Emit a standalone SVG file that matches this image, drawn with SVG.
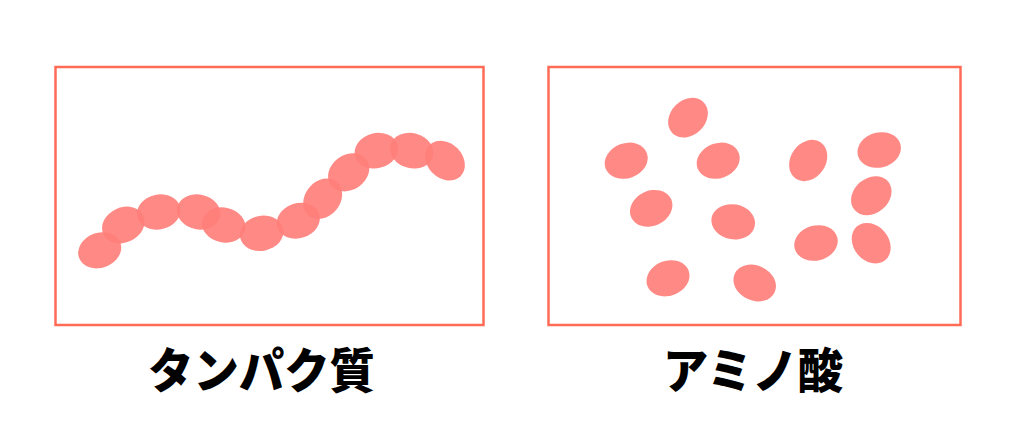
<svg xmlns="http://www.w3.org/2000/svg" width="1024" height="438" viewBox="0 0 1024 438">
<style>
.box{fill:none;stroke:#ff6b57;stroke-width:2.5}
.m{fill:#ff7f7b;opacity:0.92}
.lbl{font-family:"Noto Sans CJK JP","Noto Sans",sans-serif;font-weight:900;font-size:48px;fill:#000}
</style>
<rect width="1024" height="438" fill="#fff"/>
<g id="protein">
<rect class="box" x="55.5" y="67" width="428" height="258"/>
<ellipse class="m" cx="0" cy="0" rx="22" ry="17.5" transform="translate(99.7 250.3) rotate(-20)"/>
<ellipse class="m" cx="0" cy="0" rx="22" ry="17.5" transform="translate(123.3 225) rotate(-25)"/>
<ellipse class="m" cx="0" cy="0" rx="22" ry="17.5" transform="translate(158.7 212) rotate(-12)"/>
<ellipse class="m" cx="0" cy="0" rx="22" ry="17.5" transform="translate(198.7 212) rotate(12)"/>
<ellipse class="m" cx="0" cy="0" rx="22" ry="17.5" transform="translate(223.7 225) rotate(12)"/>
<ellipse class="m" cx="0" cy="0" rx="22" ry="17.5" transform="translate(261.7 233.3) rotate(-12)"/>
<ellipse class="m" cx="0" cy="0" rx="22" ry="17.5" transform="translate(298.3 220.7) rotate(-18)"/>
<ellipse class="m" cx="0" cy="0" rx="22" ry="17.5" transform="translate(322.7 198.7) rotate(-50)"/>
<ellipse class="m" cx="0" cy="0" rx="22" ry="17.5" transform="translate(348.7 172.3) rotate(-35)"/>
<ellipse class="m" cx="0" cy="0" rx="22" ry="17.5" transform="translate(376.3 150.7) rotate(-15)"/>
<ellipse class="m" cx="0" cy="0" rx="22" ry="17.5" transform="translate(411.7 150.7) rotate(15)"/>
<ellipse class="m" cx="0" cy="0" rx="22" ry="17.5" transform="translate(445 160.7) rotate(45)"/>
</g>
<g id="amino">
<rect class="box" x="548.5" y="67" width="412" height="258"/>
<ellipse class="m" cx="0" cy="0" rx="22" ry="17.5" transform="translate(688 117.7) rotate(-45)"/>
<ellipse class="m" cx="0" cy="0" rx="22" ry="17.5" transform="translate(626.2 160.7) rotate(-20)"/>
<ellipse class="m" cx="0" cy="0" rx="22" ry="17.5" transform="translate(718.2 160.7) rotate(-20)"/>
<ellipse class="m" cx="0" cy="0" rx="22" ry="17.5" transform="translate(808.2 160.5) rotate(-55)"/>
<ellipse class="m" cx="0" cy="0" rx="22" ry="17.5" transform="translate(879.2 150) rotate(-15)"/>
<ellipse class="m" cx="0" cy="0" rx="22" ry="17.5" transform="translate(871.3 195.7) rotate(-40)"/>
<ellipse class="m" cx="0" cy="0" rx="22" ry="17.5" transform="translate(651.2 208.3) rotate(-25)"/>
<ellipse class="m" cx="0" cy="0" rx="22" ry="17.5" transform="translate(733.2 221.8) rotate(10)"/>
<ellipse class="m" cx="0" cy="0" rx="22" ry="17.5" transform="translate(816 243) rotate(-15)"/>
<ellipse class="m" cx="0" cy="0" rx="22" ry="17.5" transform="translate(871.2 243.2) rotate(50)"/>
<ellipse class="m" cx="0" cy="0" rx="22" ry="17.5" transform="translate(668 278.3) rotate(-20)"/>
<ellipse class="m" cx="0" cy="0" rx="22" ry="17.5" transform="translate(754.7 283) rotate(25)"/>
</g>
<g id="labels">
<text class="lbl" x="148" y="388" textLength="227" lengthAdjust="spacingAndGlyphs">タンパク質</text>
<text class="lbl" x="663" y="388" textLength="180" lengthAdjust="spacingAndGlyphs">アミノ酸</text>
</g>
<g id="connectors"></g>
</svg>
